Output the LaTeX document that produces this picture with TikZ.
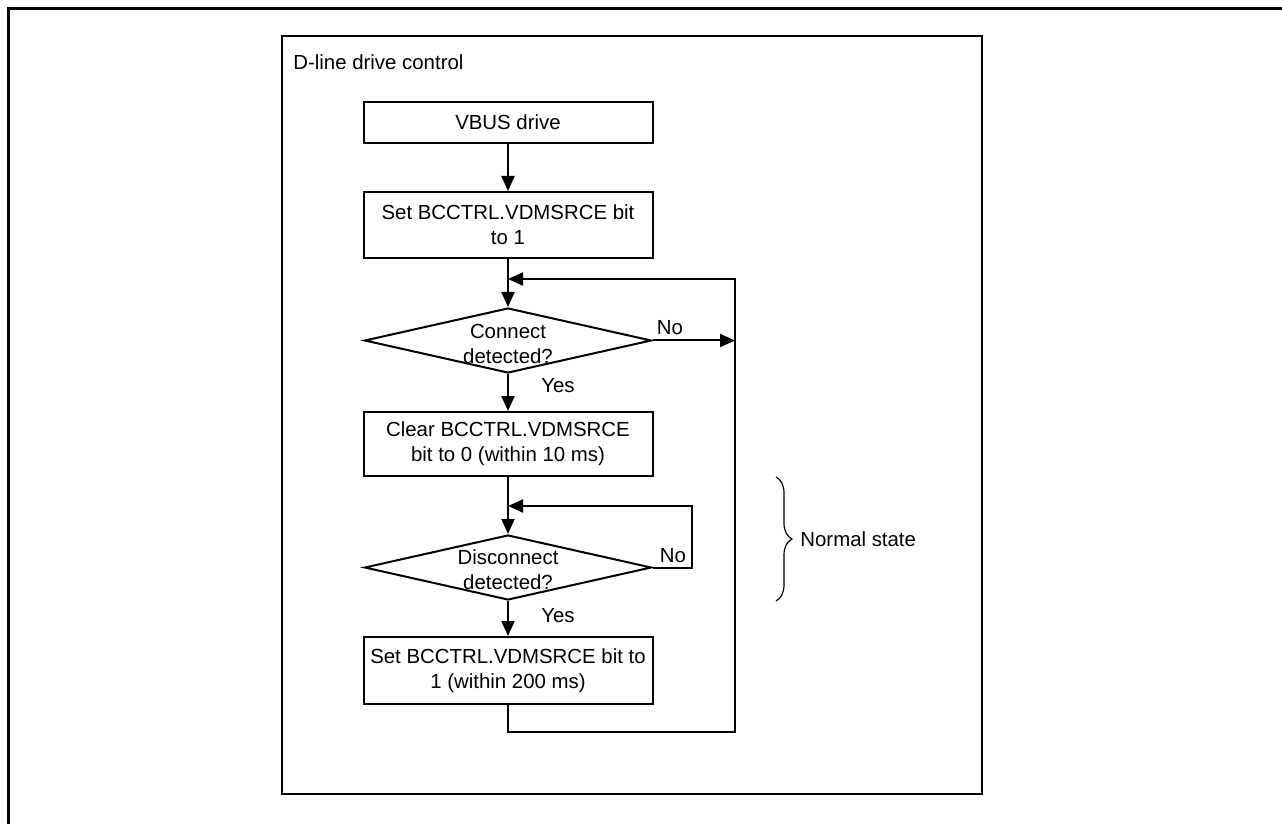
\documentclass[tikz,border=0pt]{standalone}
\usepackage{fontspec}
\setmainfont{Liberation Sans}
\usetikzlibrary{arrows.meta,shapes.geometric,decorations.pathreplacing}
\begin{document}
\begin{tikzpicture}[x=0.5pt,y=-0.5pt,
  every node/.style={font=\fontsize{10.2}{12.5}\selectfont},
  procbox/.style={draw,line width=1pt,rectangle,minimum width=144.5pt,inner sep=0pt,align=center},
  decbox/.style={draw,line width=1pt,diamond,aspect=4.4,minimum width=143.5pt,minimum height=32.5pt,inner sep=0pt},
  conn/.style={line width=1pt},
  arr/.style={conn,-{Triangle[length=7.5pt,width=6.5pt]}},
  lbl/.style={inner sep=0pt}]
\useasboundingbox (0,0) rectangle (1282,824);
% outer frame
\draw[line width=1.5pt] (8,830) -- (8,9) -- (1290,9);
% inner frame
\draw[line width=1pt] (281.5,36) rectangle (981.5,794);
\node[anchor=west,inner sep=0pt] (title) at (293,62) {D-line drive control};
% nodes
\node[procbox,minimum height=20.5pt] (b1) at (508,122.5) {VBUS drive};
\node[procbox,minimum height=33pt] (b2) at (508,225) {Set BCCTRL.VDMSRCE bit\\to 1};
\node[decbox] (d1) at (508,340.5) {};
\node[align=center,inner sep=0pt] (d1t) at (508,344) {Connect\\detected?};
\node[procbox,minimum height=32pt] (b3) at (508,444) {Clear BCCTRL.VDMSRCE\\bit to 0 (within 10 ms)};
\node[decbox] (d2) at (508,567.5) {};
\node[align=center,inner sep=0pt] (d2t) at (508,570) {Disconnect\\detected?};
\node[procbox,minimum height=33.5pt] (b4) at (508,670.5) {Set BCCTRL.VDMSRCE bit to\\1 (within 200 ms)};
% junctions
\coordinate (j1) at (508,279);
\coordinate (j2) at (508,506);
\coordinate (r1) at (735,340.5);
% connectors
\draw[arr] (b1.south) -- (b2.north);
\draw[arr] (b2.south) -- (d1.north);
\draw[arr] (d1.east) -- (r1);
\draw[arr] (d1.south) -- (b3.north);
\draw[arr] (b3.south) -- (d2.north);
\draw[arr] (d2.east) -- (692,567.5) -- (692,506) -- (j2);
\draw[arr] (d2.south) -- (b4.north);
\draw[arr] (b4.south) -- (508,732) -- (735,732) -- (735,279) -- (j1);
% labels
\node[lbl] (no1) at (670,328) {No};
\node[lbl] (yes1) at (558,386) {Yes};
\node[lbl] (no2) at (673,556) {No};
\node[lbl] (yes2) at (558,616) {Yes};
% brace
\draw[line width=0.6pt,decorate,decoration={brace,amplitude=8pt}] (776,477) -- (776,601);
\node[anchor=west,inner sep=0pt] (ns) at (800,539) {Normal state};
\end{tikzpicture}
\end{document}
